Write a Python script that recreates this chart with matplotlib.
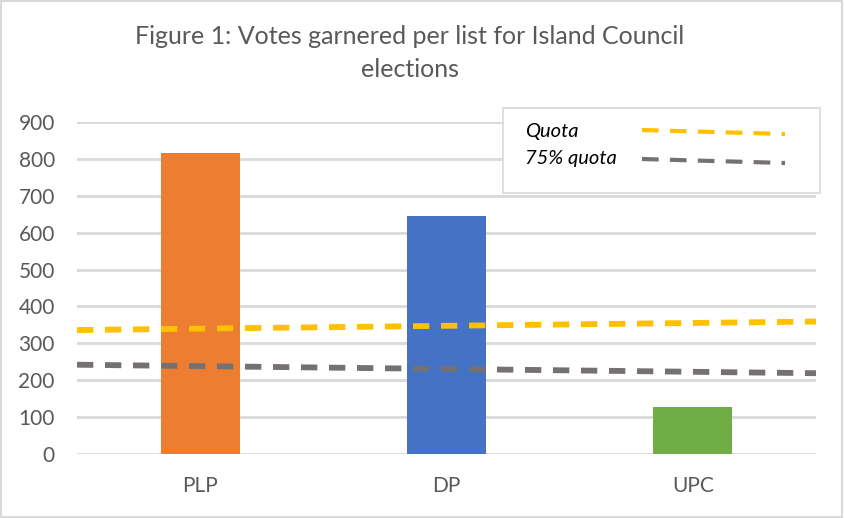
import matplotlib.pyplot as plt
from matplotlib.lines import Line2D
from matplotlib.patches import Rectangle

plt.rcParams['font.family'] = ['Lato', 'DejaVu Sans']

lists = ['PLP', 'DP', 'UPC']
votes = [816, 645, 127]
bar_colors = ['#ED7D31', '#4472C4', '#70AD47']

# quota lines, value at left and right edge of the plot
quota = [336, 359]
quota75 = [242, 219]
line_x = [-0.5, 2.5]

fig = plt.figure(figsize=(8.44, 5.18), dpi=100)
ax = fig.add_axes([77/844, 1 - 454/518, (816 - 77)/844, (454 - 122)/518])

x = range(len(lists))
ax.bar(x, votes, width=0.32, color=bar_colors, zorder=2)
ax.plot(line_x, quota, color='#FFC000', lw=4.2, dashes=(2.8, 2.0), zorder=3)
ax.plot(line_x, quota75, color='#767171', lw=4.2, dashes=(2.8, 2.0), zorder=3)

ax.set_xlim(-0.5, 2.5)
ax.set_ylim(0, 900)
ax.set_yticks(range(0, 1000, 100))
ax.set_xticks(list(x))
ax.set_xticklabels(lists)
ax.grid(axis='y', color='#D9D9D9', lw=2, zorder=0)
ax.set_axisbelow(True)
for s in ax.spines.values():
    s.set_visible(False)
ax.tick_params(length=0, labelsize=15, labelcolor='#595959')
ax.tick_params(axis='y', pad=16)
ax.tick_params(axis='x', pad=16)

fig.text(410/844, 1 - 36/518, 'Figure 1: Votes garnered per list for Island Council',
         ha='center', va='center', fontsize=18, color='#595959')
fig.text(410/844, 1 - 69/518, 'elections',
         ha='center', va='center', fontsize=18, color='#595959')

# legend box drawn by hand to get Excel's layout
fig.patches.append(Rectangle((503/844, 1 - 193/518), 317/844, 85/518,
                             transform=fig.transFigure, fc='white', ec='#D9D9D9', lw=1.2, zorder=5))
fig.text(525/844, 1 - 132/518, 'Quota', fontsize=14.5, style='italic', va='center', zorder=6)
fig.text(525/844, 1 - 159/518, '75% quota', fontsize=14.5, style='italic', va='center', zorder=6)
fig.lines.append(Line2D([642/844, 785/844], [1 - 130/518, 1 - 134/518], transform=fig.transFigure,
                        color='#FFC000', lw=3.0, dashes=(4.0, 2.7), zorder=6))
fig.lines.append(Line2D([642/844, 785/844], [1 - 159/518, 1 - 163/518], transform=fig.transFigure,
                        color='#767171', lw=3.0, dashes=(4.0, 2.7), zorder=6))

# chart area border
fig.patches.append(Rectangle((0.001, 0.002), 0.997, 0.996, transform=fig.transFigure,
                             fill=False, ec='#D9D9D9', lw=1.5))

fig.savefig('out.png', dpi=100)
